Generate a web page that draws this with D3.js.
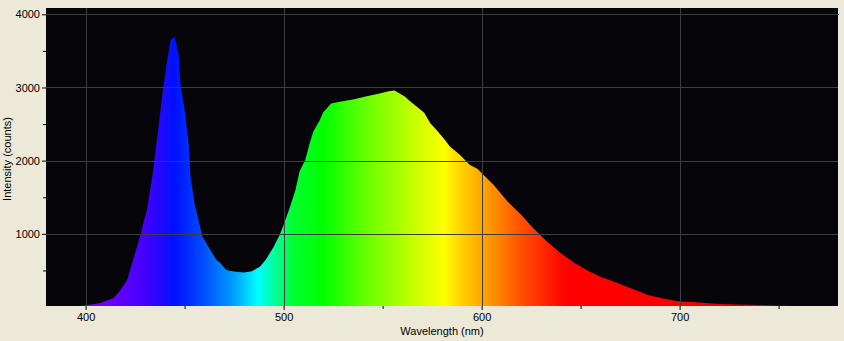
<!DOCTYPE html>
<html>
<head>
<meta charset="utf-8">
<script src="https://cdn.jsdelivr.net/npm/d3@7/dist/d3.min.js"></script>
<style>
  html, body { margin: 0; padding: 0; background: #ECE9D8; }
  svg { display: block; }
  text { font-family: Tahoma, "Liberation Sans", "DejaVu Sans", sans-serif; font-size: 11px; fill: #000; }
</style>
</head>
<body>
<div id="chart"></div>
<script>
// spectrum (nm, counts)
const wavelengths = [380, 390, 396, 400, 407, 414, 417, 421, 424, 427, 431, 434, 437, 439, 441, 443, 445, 447, 448, 450,
  452, 453, 455, 457, 459, 463, 466, 468, 471, 474, 477, 480, 484, 488, 491, 495, 498, 500, 503, 506,
  508, 511, 513, 515, 518, 520, 524, 529, 535, 542, 549, 553, 556, 561, 564, 567, 571, 574, 577, 581,
  584, 589, 594, 598, 600, 606, 613, 620, 626, 633, 640, 647, 653, 660, 667, 674, 680, 684, 691, 699,
  710, 718, 731, 745, 758, 770, 780];
const counts = [0, 0, 10, 25, 50, 120, 210, 370, 645, 920, 1330, 1835, 2500, 2950, 3340, 3650, 3700, 3450, 3020, 2700,
  2245, 1785, 1420, 1190, 965, 780, 645, 600, 505, 490, 480, 473, 490, 550, 645, 825, 985, 1120, 1350, 1600,
  1850, 2015, 2220, 2400, 2540, 2660, 2780, 2810, 2835, 2880, 2920, 2950, 2960, 2880, 2810, 2745, 2655, 2515, 2425, 2300,
  2195, 2080, 1945, 1885, 1830, 1670, 1445, 1260, 1080, 895, 735, 600, 505, 415, 345, 270, 210, 165, 120, 80,
  60, 45, 35, 25, 15, 10, 8];

const xMajor = [400, 500, 600, 700];
const xMinor = [450, 550, 650, 750];
const yMajor = [1000, 2000, 3000, 4000];
const yMinor = [500, 1500, 2500, 3500];

// colour of light at each wavelength
const spectrumStops = [
  [380, '#8800ff'], [410, '#7000ff'], [430, '#4400ff'], [445, '#0010ff'], [460, '#0050ff'],
  [475, '#00a0ff'], [487, '#00ffff'], [495, '#00ffa0'], [505, '#00ff30'], [520, '#00ff00'],
  [540, '#60ff00'], [560, '#b0ff00'], [575, '#e8ff00'], [581, '#ffff00'], [590, '#ffd000'],
  [600, '#ffa800'], [620, '#ff5000'], [640, '#ff0800'], [645, '#ff0000'], [705, '#ff0000'],
  [730, '#d00000'], [780, '#900000']
];

const width = 844, height = 341;
const plot = { left: 46, right: 838, top: 8, bottom: 306 };

const svg = d3.select('#chart').append('svg')
  .attr('width', width)
  .attr('height', height);

const x = d3.scaleLinear().domain([380, 780]).range([plot.left, plot.right]);
const y = d3.scaleLinear().domain([0, 4000]).range([307, 14.3]);

svg.append('rect')
  .attr('x', plot.left).attr('y', plot.top)
  .attr('width', plot.right - plot.left).attr('height', plot.bottom - plot.top)
  .attr('fill', '#060509');

const defs = svg.append('defs');
defs.append('clipPath').attr('id', 'clip')
  .append('rect')
  .attr('x', plot.left).attr('y', plot.top)
  .attr('width', plot.right - plot.left).attr('height', plot.bottom - plot.top);

const grad = defs.append('linearGradient')
  .attr('id', 'spectrum')
  .attr('gradientUnits', 'userSpaceOnUse')
  .attr('x1', x(380)).attr('x2', x(780))
  .attr('y1', 0).attr('y2', 0);
grad.selectAll('stop')
  .data(spectrumStops)
  .enter().append('stop')
  .attr('offset', d => (d[0] - 380) / 400)
  .attr('stop-color', d => d[1]);

const points = wavelengths.map((w, i) => [w, counts[i]]);
const area = d3.area()
  .x(d => x(d[0]))
  .y0(plot.bottom)
  .y1(d => y(d[1]));

svg.append('path')
  .datum(points)
  .attr('clip-path', 'url(#clip)')
  .attr('d', area)
  .attr('fill', 'url(#spectrum)');

// grid is drawn over the spectrum
const grid = svg.append('g').attr('stroke', '#3d3d3d').attr('stroke-width', 1);
grid.selectAll('.vg').data(xMajor).enter().append('line')
  .attr('x1', d => Math.round(x(d)) + 0.5).attr('x2', d => Math.round(x(d)) + 0.5)
  .attr('y1', plot.top).attr('y2', plot.bottom);
grid.selectAll('.hg').data(yMajor).enter().append('line')
  .attr('x1', plot.left).attr('x2', d => d === 4000 ? plot.right + 1 : plot.right)
  .attr('y1', d => Math.round(y(d)) + 0.5).attr('y2', d => Math.round(y(d)) + 0.5);

// axes
const fmt = d3.format('d');

const gx = svg.append('g')
  .attr('transform', `translate(0,${plot.bottom})`)
  .call(d3.axisBottom(x).tickValues(xMajor).tickFormat(fmt).tickSize(4).tickPadding(3));
gx.select('.domain').remove();
gx.selectAll('.tick line').attr('stroke', '#000');
gx.selectAll('.tick text').attr('font-size', null).attr('font-family', null);

svg.append('g')
  .attr('transform', `translate(0,${plot.bottom})`)
  .call(d3.axisBottom(x).tickValues(xMinor).tickSize(3).tickFormat(''))
  .call(g => g.select('.domain').remove())
  .selectAll('.tick line').attr('stroke', '#000');

const gy = svg.append('g')
  .attr('transform', `translate(${plot.left},0)`)
  .call(d3.axisLeft(y).tickValues(yMajor).tickFormat(fmt).tickSize(4).tickPadding(2));
gy.select('.domain').remove();
gy.selectAll('.tick line').attr('stroke', '#000');
gy.selectAll('.tick text').attr('font-size', null).attr('font-family', null);

svg.append('g')
  .attr('transform', `translate(${plot.left},0)`)
  .call(d3.axisLeft(y).tickValues(yMinor).tickSize(3).tickFormat(''))
  .call(g => g.select('.domain').remove())
  .selectAll('.tick line').attr('stroke', '#000');

svg.append('text')
  .attr('x', (plot.left + plot.right) / 2)
  .attr('y', 335)
  .attr('text-anchor', 'middle')
  .text('Wavelength (nm)');

svg.append('text')
  .attr('transform', 'translate(11,159) rotate(-90)')
  .attr('text-anchor', 'middle')
  .text('Intensity (counts)');
</script>
</body>
</html>
